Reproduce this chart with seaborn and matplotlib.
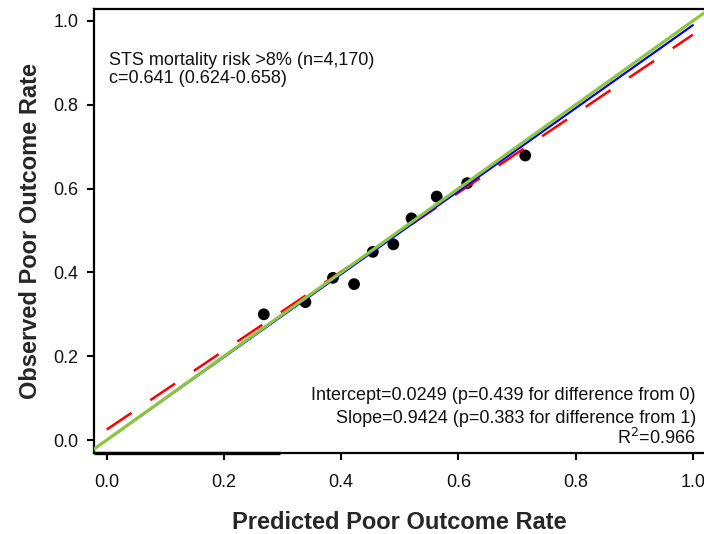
import numpy as np
import pandas as pd
import matplotlib
matplotlib.use("Agg")
import matplotlib.pyplot as plt
import seaborn as sns

# Decile calibration points: mean predicted vs observed poor-outcome rate
predicted = [0.268, 0.339, 0.386, 0.422, 0.454, 0.489, 0.520, 0.563, 0.615, 0.714]
observed = [0.300, 0.329, 0.387, 0.372, 0.449, 0.467, 0.529, 0.581, 0.613, 0.679]

# Calibration fit reported on the chart
cal_intercept = 0.0249
cal_slope = 0.9424
r_squared = 0.966

# Line fitted through the origin
origin_slope = 0.99

x_ticks = [0.0, 0.2, 0.4, 0.6, 0.8, 1.0]
y_ticks = [0.0, 0.2, 0.4, 0.6, 0.8, 1.0]

sns.set_theme(style="ticks")
plt.rcParams["font.family"] = ["Liberation Sans", "DejaVu Sans"]

fig = plt.figure(figsize=(7.04, 5.34), dpi=100)
ax = fig.add_axes([94 / 704, 81 / 534, 610 / 704, 444 / 534])

pts = pd.DataFrame({"predicted": predicted, "observed": observed})
sns.scatterplot(data=pts, x="predicted", y="observed", ax=ax, s=72,
                color="black", edgecolor="none", zorder=3)

x_line = np.array([0.0, 1.0])
fit = pd.DataFrame({"x": x_line, "y": cal_intercept + cal_slope * x_line})
sns.lineplot(data=fit, x="x", y="y", ax=ax, color="#FF0000", lw=1.8,
             dashes=False, zorder=4).lines[-1].set_dashes((12, 9))
origin_fit = pd.DataFrame({"x": x_line, "y": origin_slope * x_line})
sns.lineplot(data=origin_fit, x="x", y="y", ax=ax, color="#0000FF", lw=1.6, zorder=5)
ax.axline((0, 0), slope=1, color="#8CC63F", lw=2.3, zorder=6)

ax.set_xlim(-0.0217, 1.019)
ax.set_ylim(-0.031, 1.0286)
ax.set_xticks(x_ticks)
ax.set_yticks(y_ticks)
ax.set_xticklabels([f"{v:.1f}" for v in x_ticks])
ax.set_yticklabels([f"{v:.1f}" for v in y_ticks])
ax.tick_params(axis="both", labelsize=13, length=5, width=1.5,
               color="black", labelcolor="#111111")
ax.tick_params(axis="x", pad=10)
ax.tick_params(axis="y", pad=6)

for side in ("left", "bottom", "top"):
    ax.spines[side].set_linewidth(1.6)
    ax.spines[side].set_color("black")
ax.spines["right"].set_visible(False)
# heavier stroke along the start of the x axis
ax.plot([-0.0217, 0.295], [-0.031, -0.031], color="black", lw=2.4,
        solid_capstyle="butt", clip_on=False, zorder=7)

ax.set_xlabel("Predicted Poor Outcome Rate", fontsize=17, fontweight="bold")
ax.set_ylabel("Observed Poor Outcome Rate", fontsize=17, fontweight="bold")
ax.xaxis.set_label_coords(0.5, -0.13)
ax.yaxis.set_label_coords(-0.085, 0.5)

ax.text(0.004, 0.895, "STS mortality risk >8% (n=4,170)", fontsize=13,
        color="#111111")
ax.text(0.004, 0.852, "c=0.641 (0.624-0.658)", fontsize=13, color="#111111")

ax.text(1.005, 0.0955,
        f"Intercept={cal_intercept:.4f} (p=0.439 for difference from 0)",
        fontsize=13, ha="right", color="#111111")
ax.text(1.005, 0.041,
        f"Slope={cal_slope:.4f} (p=0.383 for difference from 1)",
        fontsize=13, ha="right", color="#111111")
ax.text(1.005, -0.0095, f"R$^2$={r_squared:.3f}", fontsize=13, ha="right",
        color="#111111")

fig.savefig("out.png", dpi=100)
